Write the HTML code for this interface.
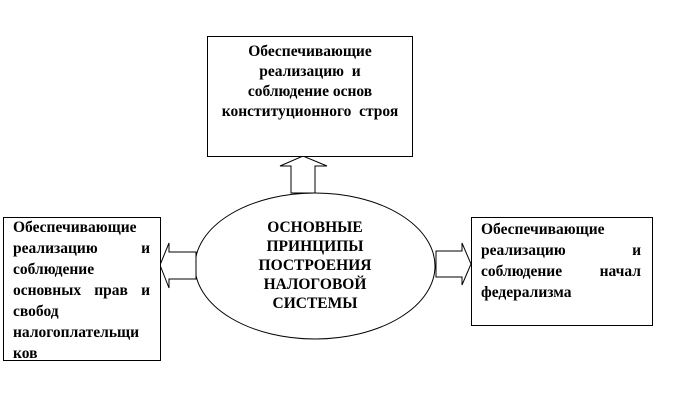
<!DOCTYPE html>
<html><head><meta charset="utf-8"><style>
body{margin:0;width:675px;height:408px;background:#fff;position:relative;overflow:hidden;font-family:"Liberation Serif","DejaVu Serif",serif;font-weight:bold;font-size:15.5px;color:#000}
.b{position:absolute;border:1px solid #000;box-sizing:border-box;background:#fff}
.t{position:absolute;white-space:nowrap}
.l{display:flex;justify-content:space-between}
</style></head><body>
<svg width="675" height="408" style="position:absolute;left:0;top:0">
<ellipse cx="315" cy="266" rx="120" ry="73" fill="#fff" stroke="#000" stroke-width="1"/>
<polygon points="291,193 291,166 280,166 303,156 327,166 315,166 315,193" fill="#fff" stroke="#000"/>
<polygon points="436,251 462,251 462,243 471,264 462,285 462,277 436,277" fill="#fff" stroke="#000"/>
<polygon points="196,252 169,252 169,243 160,265 169,288 169,279 196,279" fill="#fff" stroke="#000"/>
</svg>
<div class="b" style="left:207px;top:36px;width:206px;height:121px"></div>
<div class="t" style="left:207px;top:42px;width:206px;text-align:center;line-height:20px">Обеспечивающие<br>реализацию&nbsp; и<br>соблюдение основ<br>конституционного&nbsp; строя</div>
<div class="t" style="left:230px;top:218px;width:170px;text-align:center;line-height:19px;height:94px;overflow:hidden">ОСНОВНЫЕ<br>ПРИНЦИПЫ<br>ПОСТРОЕНИЯ<br>НАЛОГОВОЙ<br>СИСТЕМЫ</div>
<div class="b" style="left:471px;top:217px;width:182px;height:109px"></div>
<div class="t" style="left:481px;top:219px;width:160px;line-height:21px">
<div>Обеспечивающие</div>
<div class="l"><span>реализацию</span><span>и</span></div>
<div class="l"><span>соблюдение</span><span>начал</span></div>
<div>федерализма</div></div>
<div class="b" style="left:3px;top:217px;width:158px;height:144px"></div>
<div class="t" style="left:13px;top:217px;width:137px;line-height:21px">
<div>Обеспечивающие</div>
<div class="l"><span>реализацию</span><span>и</span></div>
<div>соблюдение</div>
<div class="l"><span>основных</span><span>прав</span><span>и</span></div>
<div>свобод</div>
<div>налогоплательщи</div>
<div>ков</div></div>
</body></html>
